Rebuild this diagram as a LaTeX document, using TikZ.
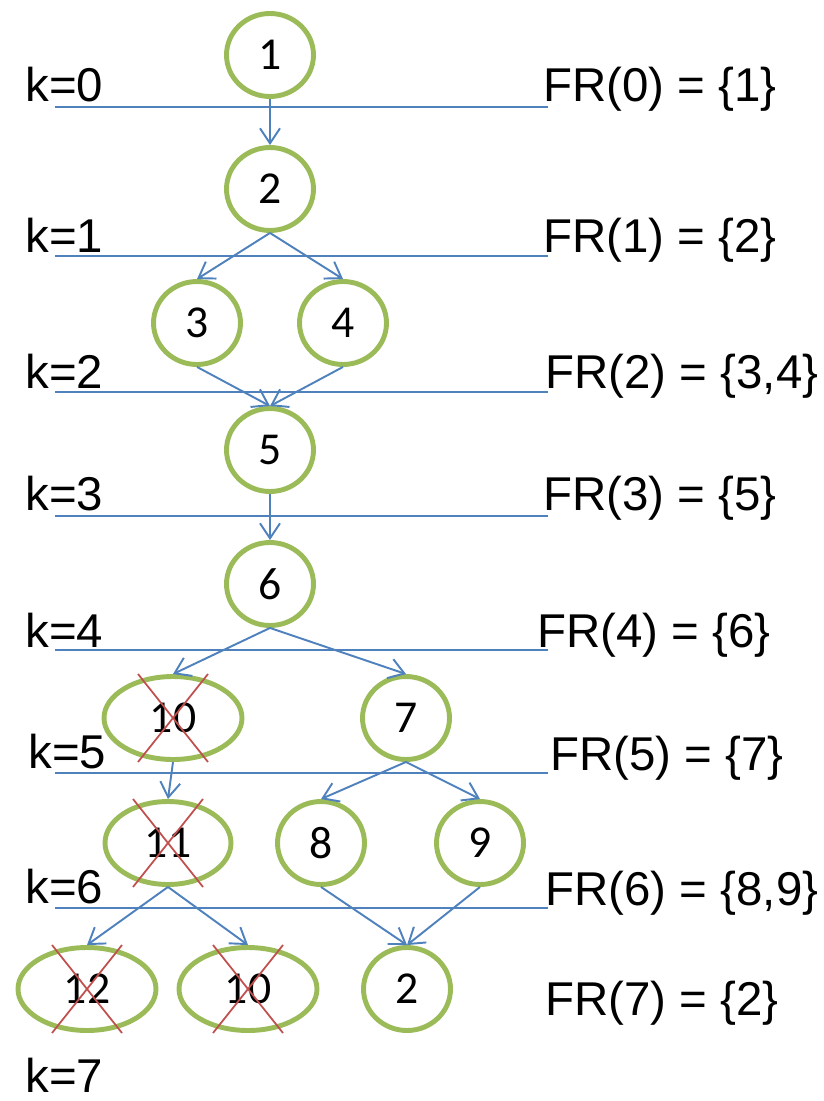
\documentclass[tikz,border=0pt]{standalone}
\usepackage{fontspec}
\setmainfont{Liberation Sans}
\newfontfamily\numfont{Carlito}
\usetikzlibrary{arrows.meta, shapes.geometric, calc}

\definecolor{stategreen}{RGB}{155,187,89}
\definecolor{edgeblue}{RGB}{79,129,189}
\definecolor{crossred}{RGB}{192,80,77}

% strike out a pruned state
\newcommand{\prune}[1]{%
    \draw[cross] ($(#1)+(-35,-44)$) -- ($(#1)+(35,44)$);
    \draw[cross] ($(#1)+(35,-44)$) -- ($(#1)+(-35,44)$);
}

\begin{document}
\begin{tikzpicture}[
    x=0.02cm, y=-0.02cm,
    state/.style={ellipse, draw=stategreen, line width=2.8pt, minimum width=1.74cm, minimum height=1.66cm, inner sep=0pt, font=\numfont\fontsize{26}{26}\selectfont},
    wide/.style={state, minimum width=2.76cm},
    arrow/.style={-{Straight Barb[length=0.3cm, width=0.4cm]}, edgeblue, line width=1.1pt},
    level/.style={edgeblue, line width=1.6pt},
    cross/.style={crossred, line width=1pt},
    lab/.style={anchor=base west, inner sep=0pt, font=\fontsize{27}{27}\selectfont}
]
    \useasboundingbox (0,0) rectangle (824,1101);

    % Level separators
    \foreach \y in {107,256,392,516,650,773,908}
        \draw[level] (55,\y) -- (548,\y);

    % States
    \node[state] (n1) at (270,55) {1};
    \node[state] (n2) at (270,189) {2};
    \node[state] (n3) at (197,323) {3};
    \node[state] (n4) at (343,323) {4};
    \node[state] (n5) at (270,450) {5};
    \node[state] (n6) at (270,584) {6};
    \node[wide] (n10) at (173,718) {10};
    \node[state] (n7) at (406,718) {7};
    \node[wide, minimum width=2.52cm] (n11) at (168,843) {11};
    \node[state] (n8) at (321,843) {8};
    \node[state] (n9) at (480,843) {9};
    \node[wide] (n12) at (87,989) {12};
    \node[wide] (n10b) at (248,989) {10};
    \node[state] (n2b) at (407,989) {2};

    % Transitions
    \draw[arrow] (n1.south) -- (n2.north);
    \draw[arrow] (n2.south) -- (n3.north);
    \draw[arrow] (n2.south) -- (n4.north);
    \draw[arrow] (n3.south) -- (n5.north);
    \draw[arrow] (n4.south) -- (n5.north);
    \draw[arrow] (n5.south) -- (n6.north);
    \draw[arrow] (n6.south) -- (n10.north);
    \draw[arrow] (n6.south) -- (n7.north);
    \draw[arrow] (n10.south) -- (n11.north);
    \draw[arrow] (n7.south) -- (n8.north);
    \draw[arrow] (n7.south) -- (n9.north);
    \draw[arrow] (n11.south) -- (n12.north);
    \draw[arrow] (n11.south) -- (n10b.north);
    \draw[arrow] (n8.south) -- (n2b.north);
    \draw[arrow] (n9.south) -- (n2b.north);

    % Pruned states
    \prune{n10}
    \prune{n11}
    \prune{n12}
    \prune{n10b}

    % Level labels
    \node[lab] (k0) at (25,102) {k=0};
    \node[lab] (k1) at (25,253) {k=1};
    \node[lab] (k2) at (25,388) {k=2};
    \node[lab] (k3) at (25,510) {k=3};
    \node[lab] (k4) at (25,647) {k=4};
    \node[lab] (k5) at (28,768) {k=5};
    \node[lab] (k6) at (25,903) {k=6};
    \node[lab] (k7) at (25,1092) {k=7};

    % Frontiers
    \node[lab] (fr0) at (543,102) {FR(0) = \{1\}};
    \node[lab] (fr1) at (543,253) {FR(1) = \{2\}};
    \node[lab] (fr2) at (545,388) {FR(2) = \{3,4\}};
    \node[lab] (fr3) at (543,510) {FR(3) = \{5\}};
    \node[lab] (fr4) at (537,647) {FR(4) = \{6\}};
    \node[lab] (fr5) at (550,770) {FR(5) = \{7\}};
    \node[lab] (fr6) at (545,905) {FR(6) = \{8,9\}};
    \node[lab] (fr7) at (545,1015) {FR(7) = \{2\}};
\end{tikzpicture}
\end{document}
